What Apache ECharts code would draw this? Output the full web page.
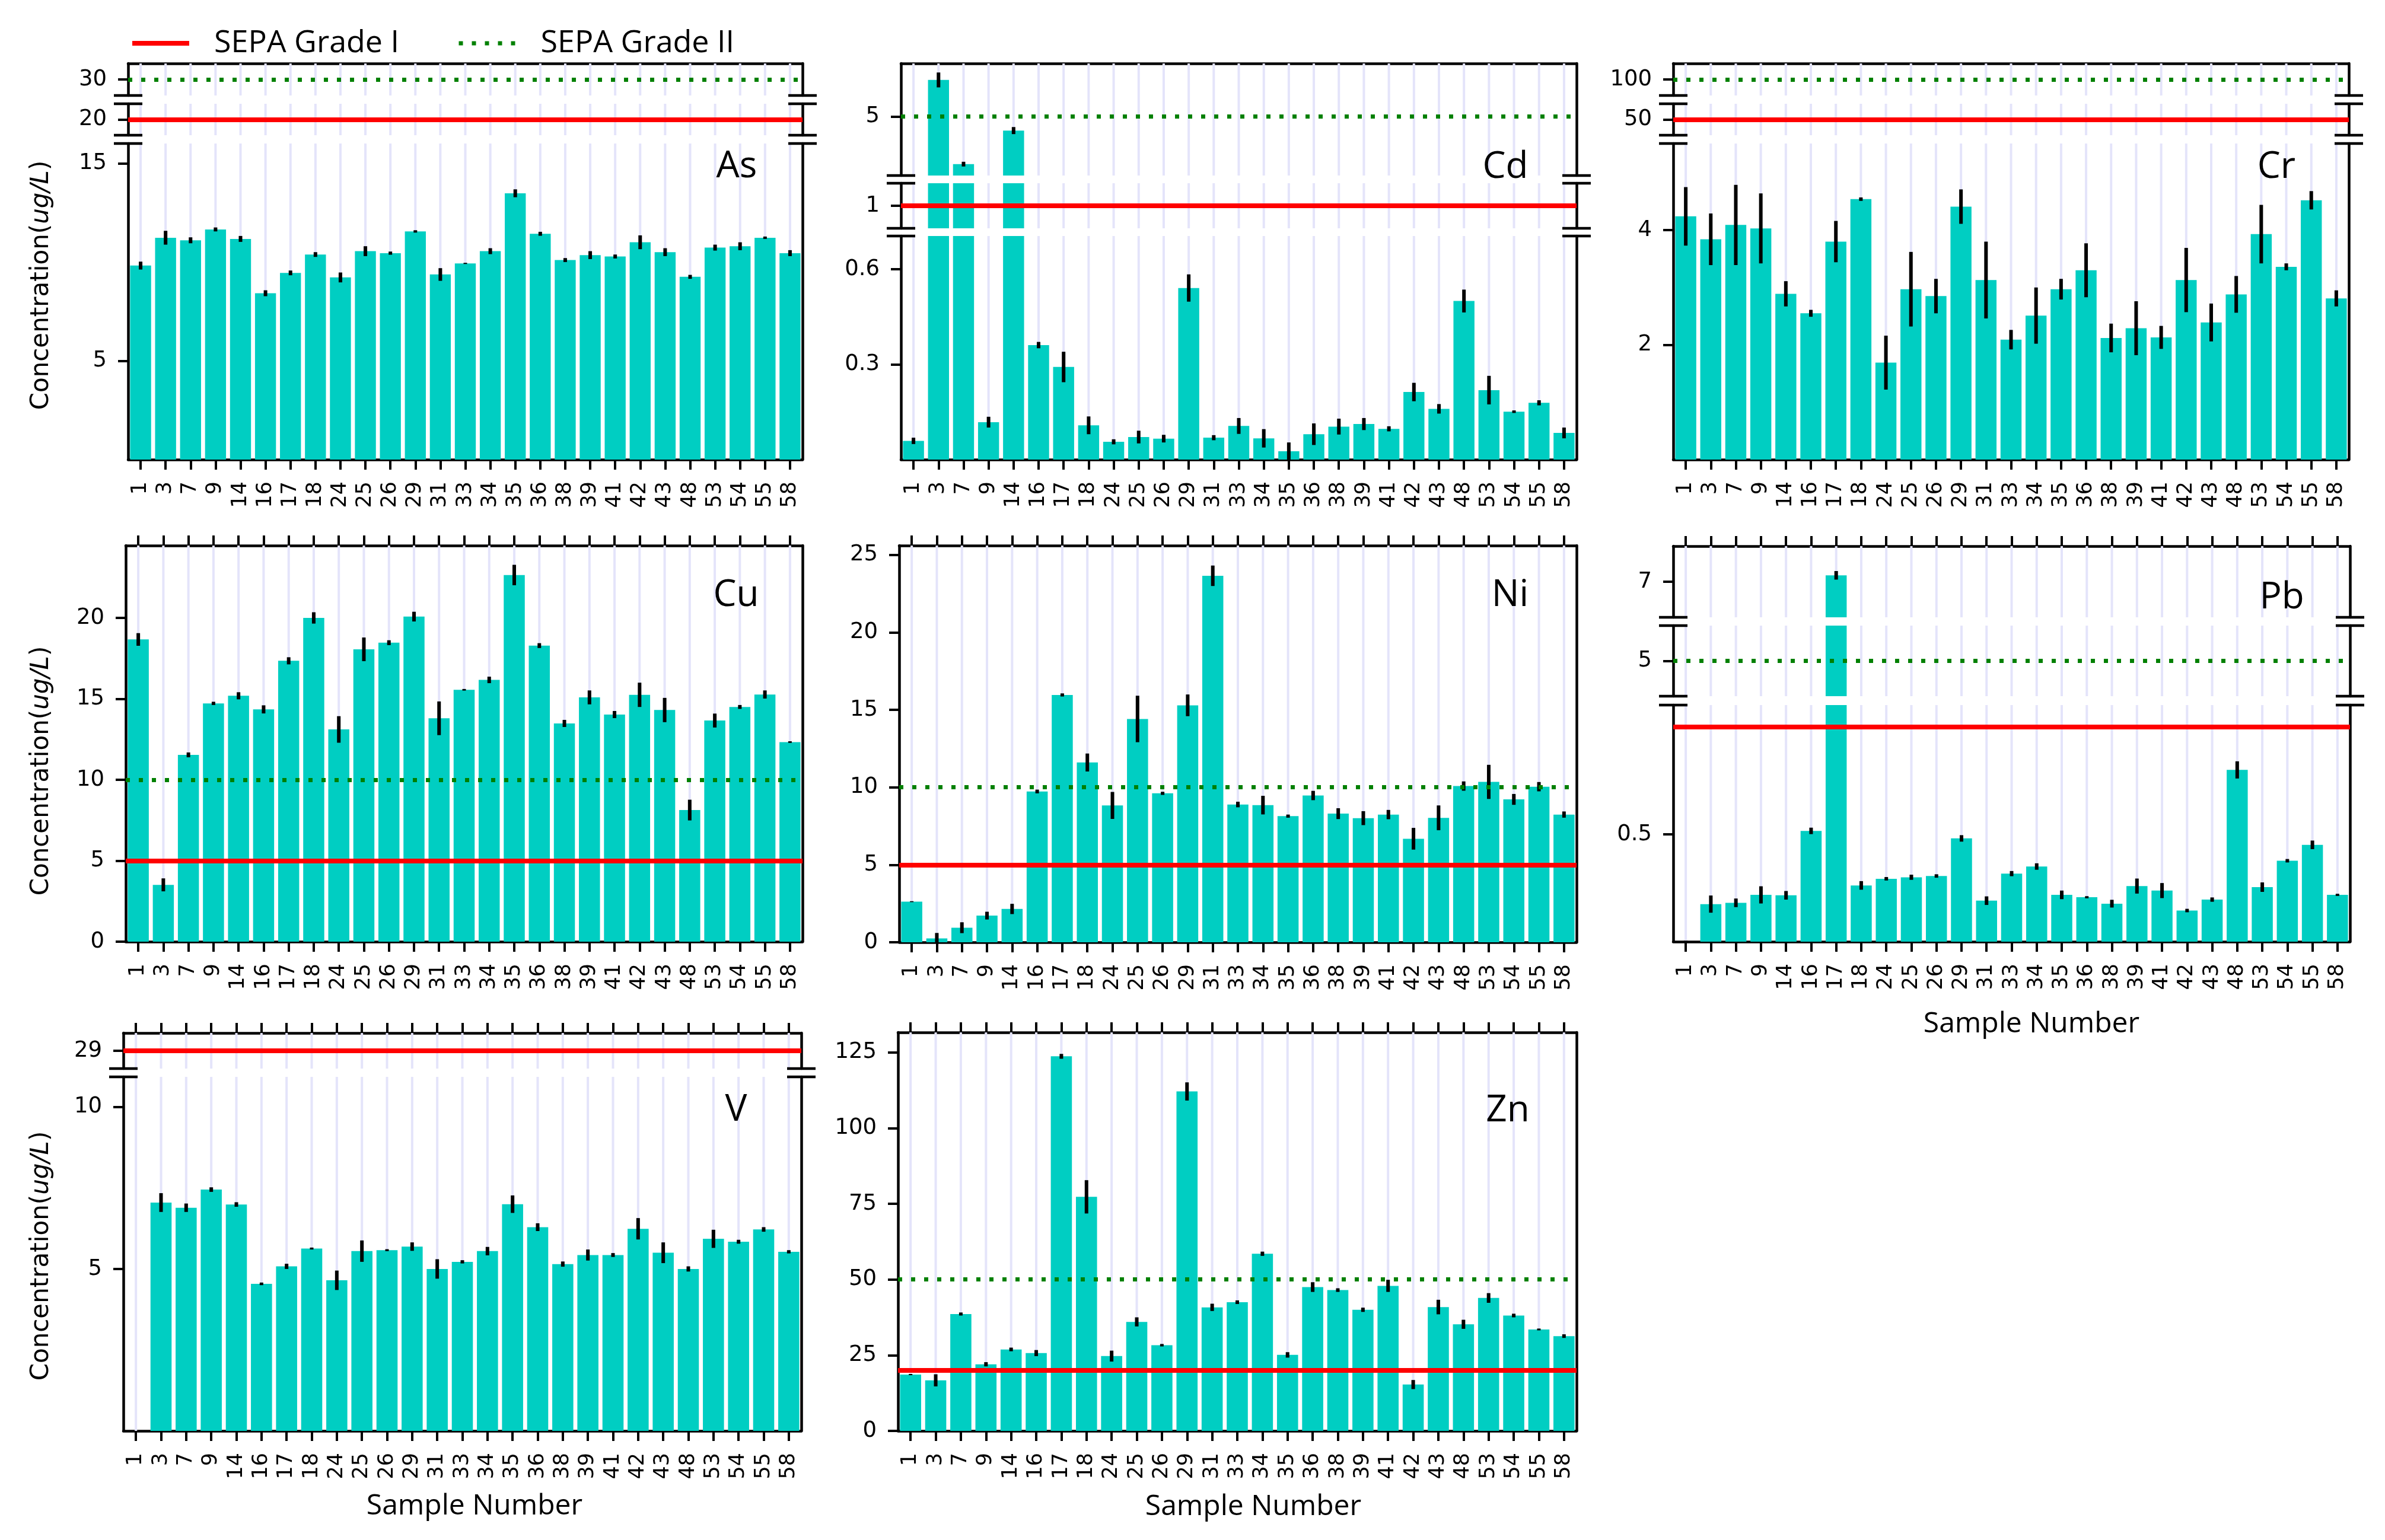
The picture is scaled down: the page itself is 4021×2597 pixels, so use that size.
<!DOCTYPE html>
<html><head><meta charset="utf-8">
<script src="https://cdn.jsdelivr.net/npm/echarts/dist/echarts.min.js"></script>
<style>html,body{margin:0;padding:0;background:#fff;}#c{width:4021px;height:2597px;}</style>
</head><body><div id="c"></div>
<script>
// ---------------- DATA ----------------
const samples = ['1','3','7','9','14','16','17','18','24','25','26','29','31','33','34','35','36','38','39','41','42','43','48','53','54','55','58'];
const elements = ['As','Cd','Cr','Cu','Ni','Pb','V','Zn'];
const gradeI  = [20, 1, 50, 5, 5, 1, 29, 20];
const gradeII = [30, 5, 100, 10, 10, 5, null, 50];

const asMean = [9.82,11.23,11.1,11.65,11.17,8.42,9.45,10.38,9.22,10.55,10.45,11.55,9.37,9.93,10.55,13.48,11.43,10.1,10.35,10.28,11.0,10.5,9.25,10.73,10.8,11.23,10.45];
const asErr  = [0.2,0.35,0.15,0.1,0.15,0.15,0.12,0.12,0.25,0.25,0.08,0.06,0.32,0.03,0.15,0.2,0.1,0.1,0.2,0.1,0.35,0.2,0.1,0.15,0.2,0.06,0.15];
const cdMean = [0.059,6.87,2.58,0.118,4.29,0.361,0.292,0.108,0.056,0.071,0.066,0.541,0.069,0.106,0.067,0.026,0.08,0.104,0.112,0.097,0.213,0.16,0.50,0.219,0.151,0.179,0.084];
const cdErr  = [0.01,0.38,0.12,0.017,0.18,0.01,0.048,0.028,0.008,0.02,0.012,0.043,0.008,0.025,0.029,0.028,0.034,0.025,0.019,0.008,0.029,0.015,0.036,0.045,0.004,0.008,0.017];
const crMean = [4.24,3.84,4.09,4.03,2.89,2.55,3.80,4.54,1.69,2.97,2.85,4.41,3.13,2.09,2.51,2.97,3.30,2.12,2.29,2.13,3.13,2.39,2.88,3.93,3.36,4.52,2.81];
const crErr  = [0.51,0.45,0.70,0.61,0.22,0.06,0.36,0.03,0.47,0.65,0.30,0.30,0.67,0.17,0.49,0.18,0.47,0.25,0.47,0.20,0.56,0.33,0.32,0.51,0.06,0.16,0.14];
const cuMean = [18.67,3.51,11.54,14.72,15.19,14.35,17.35,20.0,13.11,18.06,18.47,20.08,13.8,15.56,16.17,22.65,18.29,13.48,15.09,14.03,15.25,14.31,8.13,13.66,14.5,15.27,12.33];
const cuErr  = [0.39,0.4,0.15,0.1,0.22,0.25,0.22,0.35,0.82,0.73,0.15,0.3,1.04,0.05,0.2,0.63,0.15,0.22,0.43,0.22,0.75,0.75,0.64,0.43,0.12,0.25,0.05];
const niMean = [2.62,0.25,0.94,1.72,2.15,9.73,15.96,11.6,8.83,14.41,9.61,15.29,23.65,8.89,8.85,8.14,9.47,8.3,8.01,8.24,6.68,8.03,10.08,10.35,9.22,10.04,8.24];
const niErr  = [0.03,0.35,0.35,0.25,0.33,0.12,0.1,0.58,0.87,1.5,0.1,0.7,0.66,0.18,0.6,0.1,0.3,0.35,0.45,0.3,0.7,0.8,0.3,1.1,0.35,0.3,0.2];
const pbMean = [0,0.175,0.181,0.218,0.216,0.516,7.09,0.262,0.293,0.3,0.306,0.481,0.191,0.317,0.35,0.218,0.207,0.177,0.259,0.238,0.145,0.196,0.80,0.254,0.377,0.451,0.218];
const pbErr  = [0.005,0.04,0.02,0.04,0.02,0.015,0.06,0.02,0.008,0.012,0.008,0.015,0.02,0.012,0.015,0.02,0.005,0.018,0.035,0.035,0.008,0.01,0.04,0.022,0.008,0.02,0.005];
const vMean  = [0,7.05,6.89,7.45,6.99,4.54,5.08,5.63,4.65,5.55,5.58,5.69,5.0,5.22,5.55,7.0,6.29,5.15,5.43,5.43,6.24,5.5,5.0,5.93,5.84,6.22,5.53];
const vErr   = [0,0.29,0.13,0.07,0.07,0.04,0.08,0.03,0.3,0.33,0.03,0.13,0.3,0.05,0.13,0.27,0.12,0.08,0.17,0.06,0.33,0.32,0.08,0.28,0.06,0.07,0.05];
const znMean = [18.6,16.7,38.6,22.0,26.9,25.7,123.7,77.3,24.7,36.0,28.3,112.1,40.8,42.5,58.5,25.1,47.5,46.5,40.0,47.9,15.3,40.9,35.2,43.9,38.1,33.5,31.3];
const znErr  = [0.2,2.0,0.5,0.7,0.6,1.0,0.8,5.5,1.8,1.5,0.4,3.0,1.2,0.6,0.7,0.9,1.6,0.6,0.7,2.0,1.5,2.4,1.5,1.6,0.6,0.3,0.6];

// broken-axis segments (top to bottom) and their tick labels
const asRanges = [[28,32],[18,22],[0,16]];        const asTicks = [[30],[20],[5,15]];
const cdRanges = [[2,7.71],[0.75,1.25],[0,0.705]]; const cdTicks = [[5],[1],[0.3,0.6]];
const crRanges = [[95,105],[45,55],[0,5.51]];     const crTicks = [[100],[50],[2,4]];
const cuRanges = [[0,24.47]];                     const cuTicks = [[0,5,10,15,20]];
const niRanges = [[0,25.6]];                      const niTicks = [[0,5,10,15,20,25]];
const pbRanges = [[6.5,7.5],[4.5,5.5],[0,1.102]]; const pbTicks = [[7],[5],[0.5]];
const vRanges  = [[27,31],[0,10.93]];             const vTicks  = [[29],[5,10]];
const znRanges = [[0,131.6]];                     const znTicks = [[0,25,50,75,100,125]];

// ---------------- LAYOUT ----------------
const LAYOUT = {
  As:{x:[216,1353], segs:[[107,161],[175,228],[242,775]], topTicks:false, label:[1242,281]},
  Cd:{x:[1519,2658], segs:[[107,296],[309,385],[398,775]], topTicks:false, label:[2538,282]},
  Cr:{x:[2821,3960], segs:[[107,161],[175,228],[242,775]], topTicks:false, label:[3838,282]},
  Cu:{x:[212,1353], segs:[[920,1588]], topTicks:true, label:[1241,1004]},
  Ni:{x:[1516,2658], segs:[[920,1589]], topTicks:true, label:[2546,1004]},
  Pb:{x:[2821,3962], segs:[[921,1041],[1055,1174],[1189,1588]], topTicks:true, label:[3847,1008]},
  V: {x:[208,1351], segs:[[1742,1802],[1816,2413]], topTicks:true, label:[1241,1872]},
  Zn:{x:[1514,2658], segs:[[1741,2413]], topTicks:true, label:[2542,1873]}
};
const BAR = '#00CEC2', RED = '#FF0000', GREEN = '#008000';
const AXW = 4.5, TKW = 4;
const RED_STYLE = {color:RED, width:8, type:'solid'};
const GREEN_STYLE = {color:GREEN, width:7, type:[7,15]};

const panels = [
  [asMean, asErr, asRanges, asTicks],
  [cdMean, cdErr, cdRanges, cdTicks],
  [crMean, crErr, crRanges, crTicks],
  [cuMean, cuErr, cuRanges, cuTicks],
  [niMean, niErr, niRanges, niTicks],
  [pbMean, pbErr, pbRanges, pbTicks],
  [vMean, vErr, vRanges, vTicks],
  [znMean, znErr, znRanges, znTicks]
];

const grids = [], xAxes = [], yAxes = [], series = [], graphics = [];
function hline(x1, x2, y) {
  return {type:'line', z:100, silent:true, shape:{x1:x1, y1:y, x2:x2, y2:y}, style:{stroke:'#000', lineWidth:AXW}};
}

panels.forEach(([mean, err, ranges, ticks], ei) => {
  const name = elements[ei];
  const lay = LAYOUT[name];
  const [L, R] = lay.x;
  const n = ranges.length;
  lay.segs.forEach(([t, b], k) => {
    const gi = grids.length;
    grids.push({left:L, top:t, width:R-L, height:b-t, containLabel:false});
    const isTop = k === 0, isBot = k === n - 1;
    const [lo, hi] = ranges[k];
    const xi = xAxes.length;
    xAxes.push({type:'category', gridIndex:gi, data:samples, position:'bottom', boundaryGap:true,
      axisLine:{show:isBot, onZero:false, lineStyle:{color:'#000', width:AXW}},
      axisTick:{show:isBot, alignWithLabel:true, length:17, lineStyle:{color:'#000', width:TKW}},
      axisLabel:{show:isBot, interval:0, rotate:90, margin:37, fontSize:35, fontFamily:'DejaVu Sans', color:'#000'},
      splitLine:{show:false}});
    if (isTop) {
      xAxes.push({type:'category', gridIndex:gi, data:samples, position:'top', boundaryGap:true,
        axisLine:{show:true, onZero:false, lineStyle:{color:'#000', width:AXW}},
        axisTick:{show:lay.topTicks, alignWithLabel:true, length:17, lineStyle:{color:'#000', width:TKW}},
        axisLabel:{show:false}, splitLine:{show:false}});
    }
    const yi = yAxes.length;
    yAxes.push({type:'value', gridIndex:gi, min:lo, max:hi, position:'left',
      axisLine:{show:true, lineStyle:{color:'#000', width:AXW}},
      axisTick:{show:true, length:17, customValues:ticks[k], lineStyle:{color:'#000', width:TKW}},
      axisLabel:{show:true, customValues:ticks[k], margin:36, fontSize:37, fontFamily:'DejaVu Sans', color:'#000'},
      splitLine:{show:false}});
    yAxes.push({type:'value', gridIndex:gi, min:lo, max:hi, position:'right',
      axisLine:{show:true, lineStyle:{color:'#000', width:AXW}},
      axisTick:{show:false}, axisLabel:{show:false}, splitLine:{show:false}});
    // lavender vertical gridlines at each category
    series.push({type:'custom', xAxisIndex:xi, yAxisIndex:yi, z:1, silent:true, clip:true,
      data: samples.map((s, i) => [i, lo]),
      renderItem: (params, api) => {
        const x = api.coord([api.value(0), api.value(1)])[0];
        const cs = params.coordSys;
        return {type:'line', shape:{x1:x, y1:cs.y, x2:x, y2:cs.y + cs.height}, style:{stroke:'#E4E4FA', lineWidth:4}};
      }});
    const marks = [];
    const g1 = gradeI[ei], g2 = gradeII[ei];
    if (g1 != null && g1 >= lo && g1 <= hi) marks.push({yAxis:g1, lineStyle:RED_STYLE});
    if (g2 != null && g2 >= lo && g2 <= hi) marks.push({yAxis:g2, lineStyle:GREEN_STYLE});
    series.push({type:'bar', xAxisIndex:xi, yAxisIndex:yi, z:2, clip:true, barWidth:'84%',
      data: mean, itemStyle:{color:BAR}, silent:true,
      markLine: marks.length ? {silent:true, symbol:['none','none'], label:{show:false}, animation:false,
        emphasis:{disabled:true}, data:marks} : undefined});
    // error bars
    series.push({type:'custom', xAxisIndex:xi, yAxisIndex:yi, z:4, silent:true, clip:true,
      data: mean.map((m, i) => [i, m - err[i], m + err[i]]),
      encode:{x:0, y:[1,2]},
      renderItem: (params, api) => {
        const p1 = api.coord([api.value(0), api.value(1)]);
        const p2 = api.coord([api.value(0), api.value(2)]);
        return {type:'line', shape:{x1:p1[0], y1:p1[1], x2:p2[0], y2:p2[1]}, style:{stroke:'#000', lineWidth:6}};
      }});
    // break marks
    if (!isBot) [L, R].forEach(x => graphics.push(hline(x - 24, x + 24, b)));
    if (!isTop) [L, R].forEach(x => graphics.push(hline(x - 24, x + 24, t)));
  });
  graphics.push({type:'text', x:lay.label[0], y:lay.label[1], z:100, silent:true,
    style:{text:name, fontSize:62, fontFamily:'Open Sans', fill:'#000', textAlign:'center', textVerticalAlign:'middle', align:'center', verticalAlign:'middle'}});
});

// legend carrier series
series.push({type:'line', name:'SEPA Grade I', xAxisIndex:0, yAxisIndex:0, data:[], symbol:'none',
  lineStyle:RED_STYLE, itemStyle:{color:RED}});
series.push({type:'line', name:'SEPA Grade II', xAxisIndex:0, yAxisIndex:0, data:[], symbol:'none',
  lineStyle:GREEN_STYLE, itemStyle:{color:GREEN}});

// axis titles
[[70,481],[70,1300],[70,2118]].forEach(([x, y]) => {
  graphics.push({type:'text', x:x, y:y, rotation:Math.PI/2, z:100, silent:true,
    style:{text:'{n|Concentration(}{i|ug/L}{n|)}', textAlign:'center', textVerticalAlign:'middle', align:'center', verticalAlign:'middle',
      rich:{n:{fontSize:42, fontFamily:'DejaVu Sans', fill:'#000', color:'#000'},
            i:{fontSize:42, fontFamily:'DejaVu Sans', fontStyle:'italic', fill:'#000', color:'#000'}}}});
});
[[3425,1727],[800,2540],[2113,2541]].forEach(([x, y]) => {
  graphics.push({type:'text', x:x, y:y, z:100, silent:true,
    style:{text:'Sample Number', fontSize:48, fontFamily:'Open Sans', fill:'#000', textAlign:'center', textVerticalAlign:'middle', align:'center', verticalAlign:'middle'}});
});

function legendFor(name, left, ls) {
  return {data:[name], left:left, top:47, itemWidth:96, itemHeight:48, selectedMode:false, padding:0,
    itemStyle:{opacity:0, color:'rgba(0,0,0,0)', borderWidth:0},
    lineStyle:{color:ls.color, width:ls.width, type:ls.type, opacity:1},
    textStyle:{fontSize:52, fontFamily:'Open Sans', color:'#000', padding:[0,0,0,37]}};
}
const option = {
  backgroundColor:'#fff',
  animation:false,
  textStyle:{fontFamily:'Open Sans'},
  legend:[legendFor('SEPA Grade I', 219, RED_STYLE), legendFor('SEPA Grade II', 770, GREEN_STYLE)],
  grid:grids, xAxis:xAxes, yAxis:yAxes, series:series, graphic:graphics
};
const chart = echarts.init(document.getElementById('c'));
chart.setOption(option);
</script></body></html>
